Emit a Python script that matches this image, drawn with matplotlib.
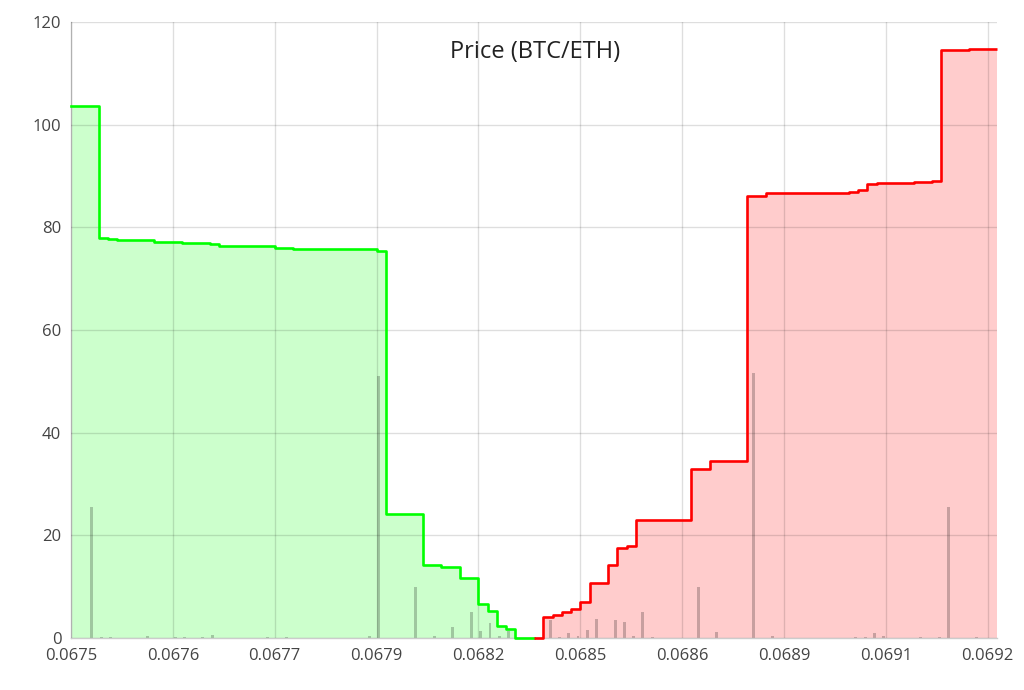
import numpy as np
import matplotlib
matplotlib.use('Agg')
import matplotlib.pyplot as plt

plt.rcParams['font.family'] = ['Open Sans', 'DejaVu Sans']

# price levels are shown as categories (100 levels), labels every 11 levels
tick_pos = [0, 11, 22, 33, 44, 55, 66, 77, 88, 99]
tick_labels = ['0.0675', '0.0676', '0.0677', '0.0679', '0.0682',
               '0.0685', '0.0686', '0.0689', '0.0691', '0.0692']
n_levels = 100
mid_level = 50

# cumulative depth: level where a step starts and the depth from there on
bid_start = [0, 3, 4, 5, 9, 12, 13, 15, 16, 22, 24, 33, 34, 38, 40, 42, 44, 45, 46, 47, 48]
bid_depth = [103.6, 77.9, 77.7, 77.5, 77.2, 77.0, 76.9, 76.8, 76.3, 76.0, 75.7, 75.3,
             24.2, 14.2, 13.9, 11.75, 6.6, 5.3, 2.3, 1.75, 0.0]

ask_start = [50, 51, 52, 53, 54, 55, 56, 58, 59, 60, 61, 62, 67, 69, 73, 75, 84, 85, 86, 87, 91, 93, 94, 97]
ask_depth = [0.0, 4.15, 4.5, 5.1, 5.65, 7.1, 10.8, 14.2, 17.5, 17.9, 22.9, 23.0, 32.9, 34.5,
             86.2, 86.6, 86.9, 87.2, 88.4, 88.7, 88.85, 89.1, 114.5, 114.8]

# volume per price level
bid_lvl = [2, 3, 4, 8, 11, 12, 14, 15, 21, 23, 32, 33, 37, 39, 41, 43, 44, 45, 46, 47]
bid_vol = [25.5, 0.2, 0.2, 0.3, 0.2, 0.2, 0.2, 0.5, 0.2, 0.2, 0.3, 51.0,
           9.9, 0.3, 2.1, 5.0, 1.4, 3.0, 0.45, 1.4]

ask_lvl = [51, 52, 53, 54, 55, 56, 58, 59, 60, 61, 62, 67, 69, 73, 75, 84, 85, 86, 87, 91, 93, 94, 97]
ask_vol = [3.6, 0.25, 1.0, 0.45, 1.6, 3.7, 3.5, 3.1, 0.45, 5.0, 0.15, 10.0, 1.2,
           51.6, 0.4, 0.2, 0.2, 1.0, 0.3, 0.1, 0.2, 25.5, 0.1]

fig = plt.figure(figsize=(10.24, 6.9), dpi=100)
ax = fig.add_axes([71 / 1024, 52 / 690, 926 / 1024, 616 / 690])

bx = np.array(bid_start + [mid_level])
by = np.array(bid_depth + [bid_depth[-1]])
ax_ = np.array(ask_start + [n_levels])
ay = np.array(ask_depth + [ask_depth[-1]])

ax.fill_between(bx, by, step='post', color='#ccffcc', lw=0, zorder=1)
ax.fill_between(ax_, ay, step='post', color='#ffcccc', lw=0, zorder=1)

# volume bars: bids on the left half of a level, asks on the right half
ax.bar(np.array(bid_lvl) + 0.25, bid_vol, width=0.32, color='black', alpha=0.22, lw=0, zorder=2)
ax.bar(np.array(ask_lvl) + 0.75, ask_vol, width=0.32, color='black', alpha=0.22, lw=0, zorder=2)

ax.step(bx, by, where='post', color='#00ff00', lw=1.9, zorder=4, clip_on=False)
ax.step(ax_, ay, where='post', color='#ff0000', lw=1.9, zorder=4, clip_on=False,
        solid_capstyle='butt')

ax.set_xlim(0, n_levels)
ax.set_ylim(0, 120)
ax.set_xticks(tick_pos)
ax.set_xticklabels(tick_labels)
ax.set_yticks(range(0, 121, 20))
ax.tick_params(length=0, labelsize=12, colors='#444444')
ax.tick_params(axis='y', pad=7)
ax.tick_params(axis='x', pad=7)
ax.grid(True, color='black', alpha=0.13, lw=1, zorder=3)
ax.set_axisbelow(False)

for s in ['top', 'right']:
    ax.spines[s].set_visible(False)
for s in ['left', 'bottom']:
    ax.spines[s].set_color('#cccccc')
    ax.spines[s].set_linewidth(1)

ax.text(0.501, 0.951, 'Price (BTC/ETH)', transform=ax.transAxes, ha='center', va='center',
        fontsize=17, color='#222222')

fig.savefig('out.png', dpi=100)
